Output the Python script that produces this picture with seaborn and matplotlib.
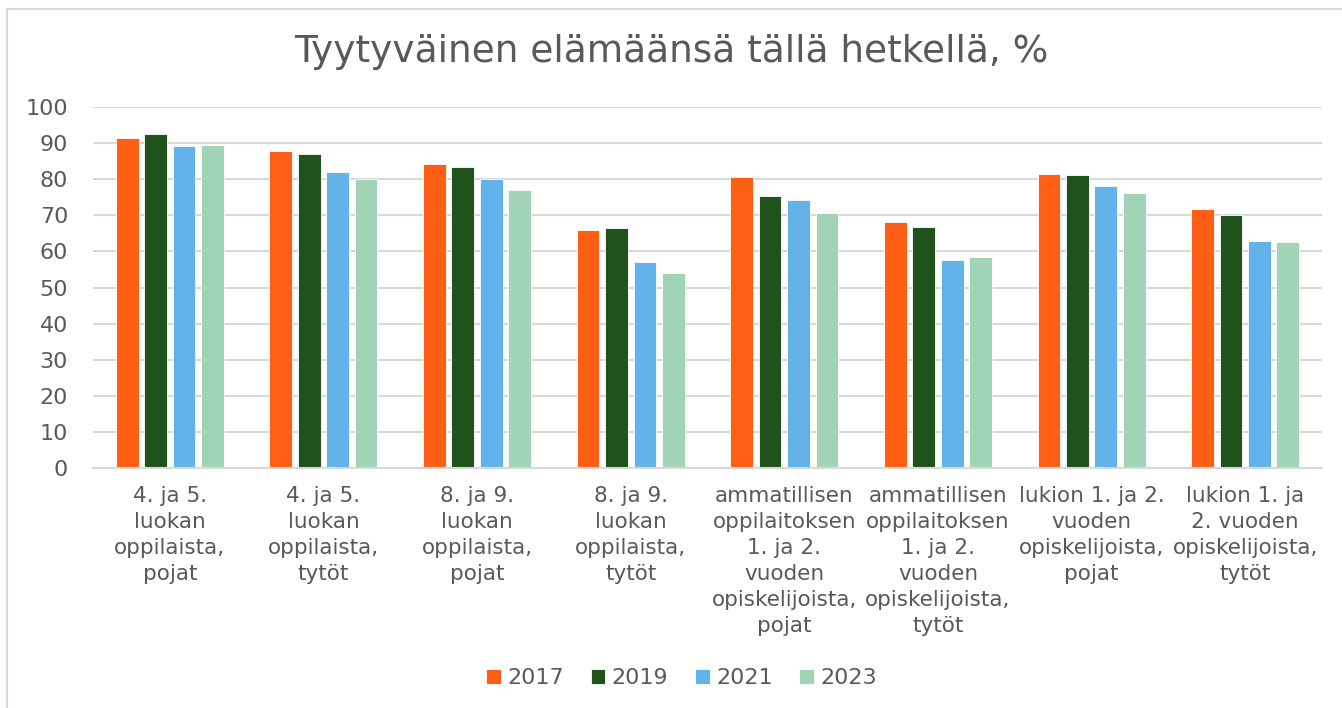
import matplotlib
matplotlib.use("Agg")
import matplotlib.pyplot as plt
import seaborn as sns
import pandas as pd
from matplotlib.patches import Rectangle

# ---- data ----
groups = [
    "4. ja 5.\nluokan\noppilaista,\npojat",
    "4. ja 5.\nluokan\noppilaista,\ntytöt",
    "8. ja 9.\nluokan\noppilaista,\npojat",
    "8. ja 9.\nluokan\noppilaista,\ntytöt",
    "ammatillisen\noppilaitoksen\n1. ja 2.\nvuoden\nopiskelijoista,\npojat",
    "ammatillisen\noppilaitoksen\n1. ja 2.\nvuoden\nopiskelijoista,\ntytöt",
    "lukion 1. ja 2.\nvuoden\nopiskelijoista,\npojat",
    "lukion 1. ja\n2. vuoden\nopiskelijoista,\ntytöt",
]
years = ["2017", "2019", "2021", "2023"]
v2017 = [91.4, 87.8, 84.2, 65.9, 80.7, 68.1, 81.4, 71.7]
v2019 = [92.5, 87.0, 83.5, 66.4, 75.4, 66.8, 81.2, 70.1]
v2021 = [89.3, 82.0, 80.1, 57.2, 74.2, 57.5, 78.1, 62.8]
v2023 = [89.6, 80.1, 77.0, 54.0, 70.5, 58.4, 76.3, 62.5]
colors = ["#FF5F15", "#1F531B", "#63B3EB", "#A1D4B7"]

rows = []
for year, vals in zip(years, [v2017, v2019, v2021, v2023]):
    for g, v in zip(groups, vals):
        rows.append({"group": g, "year": year, "value": v})
df = pd.DataFrame(rows)

sns.set_theme(style="white")
plt.rcParams["font.family"] = ["DejaVu Sans"]
text_col = "#595959"

fig = plt.figure(figsize=(13.42, 7.08), dpi=100)
ax = fig.add_axes([93 / 1342, 1 - 468 / 708, (1322 - 93) / 1342, (468 - 107) / 708])

sns.barplot(data=df, x="group", y="value", hue="year", palette=colors,
            width=0.74, gap=0.2, ax=ax, saturation=1, edgecolor="white",
            linewidth=0.6, legend=True)

ax.set_ylim(0, 100)
ax.set_yticks(range(0, 101, 10))
ax.yaxis.grid(True, color="#D9D9D9", linewidth=1.5)
ax.set_axisbelow(True)
for s in ["top", "right", "left"]:
    ax.spines[s].set_visible(False)
ax.spines["bottom"].set_color("#D9D9D9")
ax.spines["bottom"].set_linewidth(1.5)
ax.tick_params(axis="y", length=0, labelsize=16, labelcolor=text_col, pad=18)
ax.tick_params(axis="x", length=0, labelsize=15.5, labelcolor=text_col, pad=13)
for lab in ax.get_xticklabels():
    lab.set_linespacing(1.38)
ax.set_xlabel("")
ax.set_ylabel("")

fig.text(0.5, 1 - 52 / 708, "Tyytyväinen elämäänsä tällä hetkellä, %",
         ha="center", va="center", fontsize=27, color=text_col)

handles, labels = ax.get_legend_handles_labels()
ax.legend_.remove()
fig.legend(handles, labels, loc="center", bbox_to_anchor=(0.508, 1 - 678 / 708),
           ncol=4, frameon=False, fontsize=16, labelcolor=text_col,
           handlelength=0.65, handleheight=0.65, handletextpad=0.3,
           columnspacing=1.2)

# outer chart frame
fig.patches.append(Rectangle((7 / 1342, -0.1), 1.2, 1 - 9 / 708 + 0.1,
                             transform=fig.transFigure, fill=False,
                             edgecolor="#D9D9D9", linewidth=1.5))

fig.savefig("out.png", dpi=100, facecolor="white")
